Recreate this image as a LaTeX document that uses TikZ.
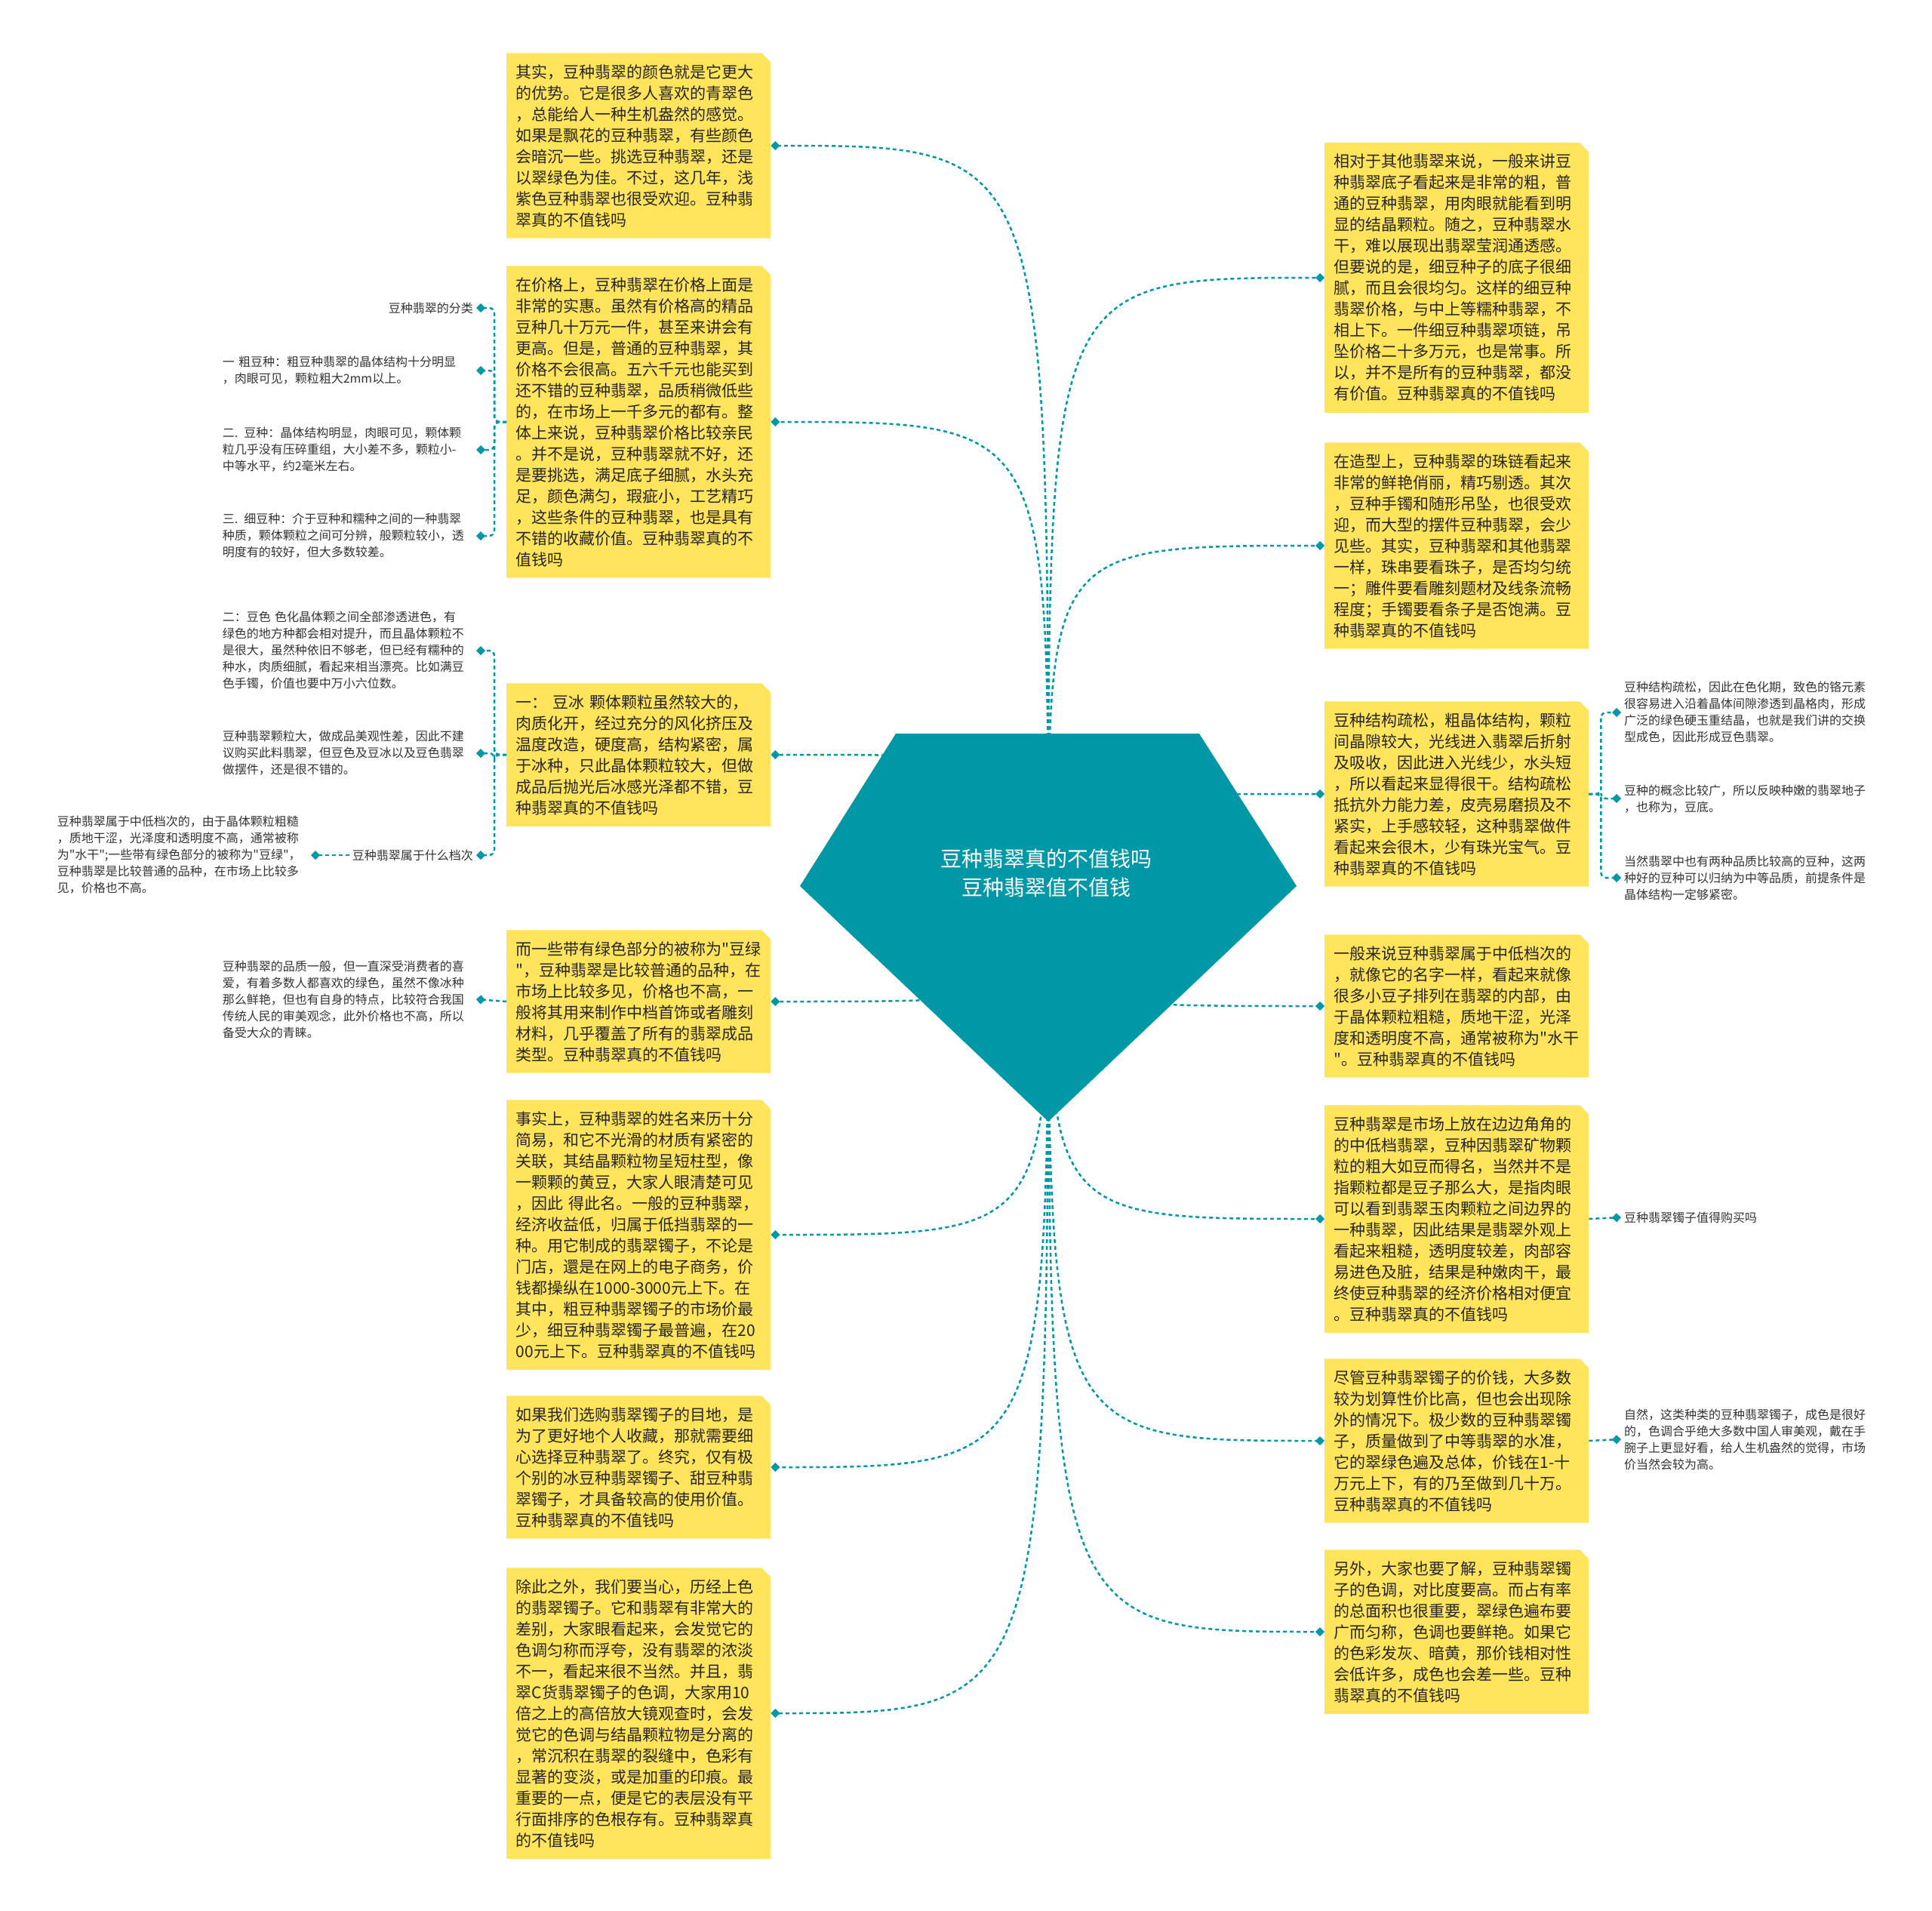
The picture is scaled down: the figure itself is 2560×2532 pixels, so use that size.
\documentclass[tikz,border=0pt]{standalone}
\usepackage{fontspec}
\setmainfont{Noto Sans CJK SC}[Ligatures=TeXOff]
\usetikzlibrary{shapes.misc, arrows.meta, positioning}
\definecolor{gemteal}{RGB}{0,151,167}
\definecolor{noteyellow}{RGB}{255,228,92}
\definecolor{textgray}{RGB}{51,51,51}

\begin{document}
\begin{tikzpicture}[
    x=1pt, y=-1pt,
    topic/.style={chamfered rectangle, chamfered rectangle corners=north east,
                  chamfered rectangle xsep=6pt, chamfered rectangle ysep=6pt,
                  fill=noteyellow, text=black!85, inner xsep=6.5pt, inner ysep=9pt,
                  text width=325pt, align=left, font=\fontsize{21}{28}\selectfont},
    detail/.style={text=textgray, inner xsep=4pt, inner ysep=2pt, align=left,
                   font=\fontsize{16}{22}\selectfont},
    link/.style={draw=gemteal, line width=2.5pt, dash pattern=on 5pt off 4pt,
                 -{Diamond[length=12pt,width=12pt]}},
    branch/.style={link, rounded corners=7pt}
]
\path[use as bounding box, fill=white] (0,0) rectangle (2560,2532);
\coordinate (root) at (1389,1174);

% left topics
\node[topic, anchor=west] (color) at (671,193) {其实，豆种翡翠的颜色就是它更大\\的优势。它是很多人喜欢的青翠色\\，总能给人一种生机盎然的感觉。\\如果是飘花的豆种翡翠，有些颜色\\会暗沉一些。挑选豆种翡翠，还是\\以翠绿色为佳。不过，这几年，浅\\紫色豆种翡翠也很受欢迎。豆种翡\\翠真的不值钱吗};
\node[topic, anchor=west] (price) at (671,559) {在价格上，豆种翡翠在价格上面是\\非常的实惠。虽然有价格高的精品\\豆种几十万元一件，甚至来讲会有\\更高。但是，普通的豆种翡翠，其\\价格不会很高。五六千元也能买到\\还不错的豆种翡翠，品质稍微低些\\的，在市场上一千多元的都有。整\\体上来说，豆种翡翠价格比较亲民\\。并不是说，豆种翡翠就不好，还\\是要挑选，满足底子细腻，水头充\\足，颜色满匀，瑕疵小，工艺精巧\\，这些条件的豆种翡翠，也是具有\\不错的收藏价值。豆种翡翠真的不\\值钱吗};
\node[topic, anchor=west] (douice) at (671,1000) {一： 豆冰 颗体颗粒虽然较大的，\\肉质化开，经过充分的风化挤压及\\温度改造，硬度高，结构紧密，属\\于冰种，只此晶体颗粒较大，但做\\成品后抛光后冰感光泽都不错，豆\\种翡翠真的不值钱吗};
\node[topic, anchor=west] (dougreen) at (671,1327) {而一些带有绿色部分的被称为"豆绿\\"，豆种翡翠是比较普通的品种，在\\市场上比较多见，价格也不高，一\\般将其用来制作中档首饰或者雕刻\\材料，几乎覆盖了所有的翡翠成品\\类型。豆种翡翠真的不值钱吗};
\node[topic, anchor=west] (origin) at (671,1636) {事实上，豆种翡翠的姓名来历十分\\简易，和它不光滑的材质有紧密的\\关联，其结晶颗粒物呈短柱型，像\\一颗颗的黄豆，大家人眼清楚可见\\，因此 得此名。一般的豆种翡翠，\\经济收益低，归属于低挡翡翠的一\\种。用它制成的翡翠镯子，不论是\\门店，還是在网上的电子商务，价\\钱都操纵在1000-3000元上下。在\\其中，粗豆种翡翠镯子的市场价最\\少，细豆种翡翠镯子最普遍，在20\\00元上下。豆种翡翠真的不值钱吗};
\node[topic, anchor=west] (collect) at (671,1944) {如果我们选购翡翠镯子的目地，是\\为了更好地个人收藏，那就需要细\\心选择豆种翡翠了。终究，仅有极\\个别的冰豆种翡翠镯子、甜豆种翡\\翠镯子，才具备较高的使用价值。\\豆种翡翠真的不值钱吗};
\node[topic, anchor=west] (dyed) at (671,2270) {除此之外，我们要当心，历经上色\\的翡翠镯子。它和翡翠有非常大的\\差别，大家眼看起来，会发觉它的\\色调匀称而浮夸，没有翡翠的浓淡\\不一，看起来很不当然。并且，翡\\翠C货翡翠镯子的色调，大家用10\\倍之上的高倍放大镜观查时，会发\\觉它的色调与结晶颗粒物是分离的\\，常沉积在翡翠的裂缝中，色彩有\\显著的变淡，或是加重的印痕。最\\重要的一点，便是它的表层没有平\\行面排序的色根存有。豆种翡翠真\\的不值钱吗};

% right topics
\node[topic, anchor=west] (base) at (1755,368) {相对于其他翡翠来说，一般来讲豆\\种翡翠底子看起来是非常的粗，普\\通的豆种翡翠，用肉眼就能看到明\\显的结晶颗粒。随之，豆种翡翠水\\干，难以展现出翡翠莹润通透感。\\但要说的是，细豆种子的底子很细\\腻，而且会很均匀。这样的细豆种\\翡翠价格，与中上等糯种翡翠，不\\相上下。一件细豆种翡翠项链，吊\\坠价格二十多万元，也是常事。所\\以，并不是所有的豆种翡翠，都没\\有价值。豆种翡翠真的不值钱吗};
\node[topic, anchor=west] (shape) at (1755,723) {在造型上，豆种翡翠的珠链看起来\\非常的鲜艳俏丽，精巧剔透。其次\\，豆种手镯和随形吊坠，也很受欢\\迎，而大型的摆件豆种翡翠，会少\\见些。其实，豆种翡翠和其他翡翠\\一样，珠串要看珠子，是否均匀统\\一；雕件要看雕刻题材及线条流畅\\程度；手镯要看条子是否饱满。豆\\种翡翠真的不值钱吗};
\node[topic, anchor=west] (loose) at (1755,1052) {豆种结构疏松，粗晶体结构，颗粒\\间晶隙较大，光线进入翡翠后折射\\及吸收，因此进入光线少，水头短\\，所以看起来显得很干。结构疏松\\抵抗外力能力差，皮壳易磨损及不\\紧实，上手感较轻，这种翡翠做件\\看起来会很木，少有珠光宝气。豆\\种翡翠真的不值钱吗};
\node[topic, anchor=west] (grade) at (1755,1333) {一般来说豆种翡翠属于中低档次的\\，就像它的名字一样，看起来就像\\很多小豆子排列在翡翠的内部，由\\于晶体颗粒粗糙，质地干涩，光泽\\度和透明度不高，通常被称为"水干\\"。豆种翡翠真的不值钱吗};
\node[topic, anchor=west] (market) at (1755,1615) {豆种翡翠是市场上放在边边角角的\\的中低档翡翠，豆种因翡翠矿物颗\\粒的粗大如豆而得名，当然并不是\\指颗粒都是豆子那么大，是指肉眼\\可以看到翡翠玉肉颗粒之间边界的\\一种翡翠，因此结果是翡翠外观上\\看起来粗糙，透明度较差，肉部容\\易进色及脏，结果是种嫩肉干，最\\终使豆种翡翠的经济价格相对便宜\\。豆种翡翠真的不值钱吗};
\node[topic, anchor=west] (bangle) at (1755,1909) {尽管豆种翡翠镯子的价钱，大多数\\较为划算性价比高，但也会出现除\\外的情况下。极少数的豆种翡翠镯\\子，质量做到了中等翡翠的水准，\\它的翠绿色遍及总体，价钱在1-十\\万元上下，有的乃至做到几十万。\\豆种翡翠真的不值钱吗};
\node[topic, anchor=west] (tone) at (1755,2162) {另外，大家也要了解，豆种翡翠镯\\子的色调，对比度要高。而占有率\\的总面积也很重要，翠绿色遍布要\\广而匀称，色调也要鲜艳。如果它\\的色彩发灰、暗黄，那价钱相对性\\会低许多，成色也会差一些。豆种\\翡翠真的不值钱吗};

% details, left
\node[detail, anchor=east] (kinds) at (631,408) {豆种翡翠的分类};
\node[detail, anchor=east, text width=332pt] (coarse) at (631,491) {一 粗豆种：粗豆种翡翠的晶体结构十分明显\\，肉眼可见，颗粒粗大2mm以上。};
\node[detail, anchor=east, text width=332pt] (medium) at (631,596) {二. 豆种：晶体结构明显，肉眼可见，颗体颗\\粒几乎没有压碎重组，大小差不多，颗粒小-\\中等水平，约2毫米左右。};
\node[detail, anchor=east, text width=332pt] (fine) at (631,710) {三. 细豆种：介于豆种和糯种之间的一种翡翠\\种质，颗体颗粒之间可分辨，般颗粒较小，透\\明度有的较好，但大多数较差。};
\node[detail, anchor=east, text width=332pt] (douse) at (631,862) {二：豆色 色化晶体颗之间全部渗透进色，有\\绿色的地方种都会相对提升，而且晶体颗粒不\\是很大，虽然种依旧不够老，但已经有糯种的\\种水，肉质细腻，看起来相当漂亮。比如满豆\\色手镯，价值也要中万小六位数。};
\node[detail, anchor=east, text width=332pt] (bigGrain) at (631,998) {豆种翡翠颗粒大，做成品美观性差，因此不建\\议购买此料翡翠，但豆色及豆冰以及豆色翡翠\\做摆件，还是很不错的。};
\node[detail, anchor=east] (gradeQ) at (631,1133) {豆种翡翠属于什么档次};
\node[detail, anchor=east, text width=332pt] (gradeAns) at (412,1133) {豆种翡翠属于中低档次的，由于晶体颗粒粗糙\\，质地干涩，光泽度和透明度不高，通常被称\\为"水干";一些带有绿色部分的被称为"豆绿"，\\豆种翡翠是比较普通的品种，在市场上比较多\\见，价格也不高。};
\node[detail, anchor=east, text width=332pt] (quality) at (631,1324) {豆种翡翠的品质一般，但一直深受消费者的喜\\爱，有着多数人都喜欢的绿色，虽然不像冰种\\那么鲜艳，但也有自身的特点，比较符合我国\\传统人民的审美观念，此外价格也不高，所以\\备受大众的青睐。};

% details, right
\node[detail, anchor=west, text width=332pt] (exchange) at (2148,944) {豆种结构疏松，因此在色化期，致色的铬元素\\很容易进入沿着晶体间隙渗透到晶格肉，形成\\广泛的绿色硬玉重结晶，也就是我们讲的交换\\型成色，因此形成豆色翡翠。};
\node[detail, anchor=west, text width=332pt] (concept) at (2148,1058) {豆种的概念比较广，所以反映种嫩的翡翠地子\\，也称为，豆底。};
\node[detail, anchor=west, text width=332pt] (twoGood) at (2148,1163) {当然翡翠中也有两种品质比较高的豆种，这两\\种好的豆种可以归纳为中等品质，前提条件是\\晶体结构一定够紧密。};
\node[detail, anchor=west] (worthBuy) at (2148,1613) {豆种翡翠镯子值得购买吗};
\node[detail, anchor=west, text width=332pt] (natural) at (2148,1907) {自然，这类种类的豆种翡翠镯子，成色是很好\\的，色调合乎绝大多数中国人审美观，戴在手\\腕子上更显好看，给人生机盎然的觉得，市场\\价当然会较为高。};

% connectors
\foreach \n in {color,price,douice,dougreen,origin,collect,dyed}
  \draw[link] (root) .. controls (root |- \n.east) .. (\n.east);
\foreach \n in {base,shape,loose,grade,market,bangle,tone}
  \draw[link] (root) .. controls (root |- \n.west) .. (\n.west);
\foreach \n in {kinds,coarse,medium,fine}
  \draw[branch] (price.west) -- ++(-16,0) |- (\n.east);
\foreach \n in {douse,bigGrain,gradeQ}
  \draw[branch] (douice.west) -- ++(-16,0) |- (\n.east);
\draw[link] (gradeQ.west) -- (gradeAns.east);
\draw[link] (dougreen.west) -- (quality.east);
\foreach \n in {exchange,concept,twoGood}
  \draw[branch] (loose.east) -- ++(16,0) |- (\n.west);
\draw[link] (market.east) -- (worthBuy.west);
\draw[link] (bangle.east) -- (natural.west);

% central gem
\fill[gemteal] (1187,972) -- (1589,972) -- (1718,1174) -- (1389,1486) -- (1060,1174) -- cycle;
\node[text=white, align=center, font=\fontsize{28}{38}\selectfont] (title) at (1386,1157) {豆种翡翠真的不值钱吗\\豆种翡翠值不值钱};
\end{tikzpicture}
\end{document}
